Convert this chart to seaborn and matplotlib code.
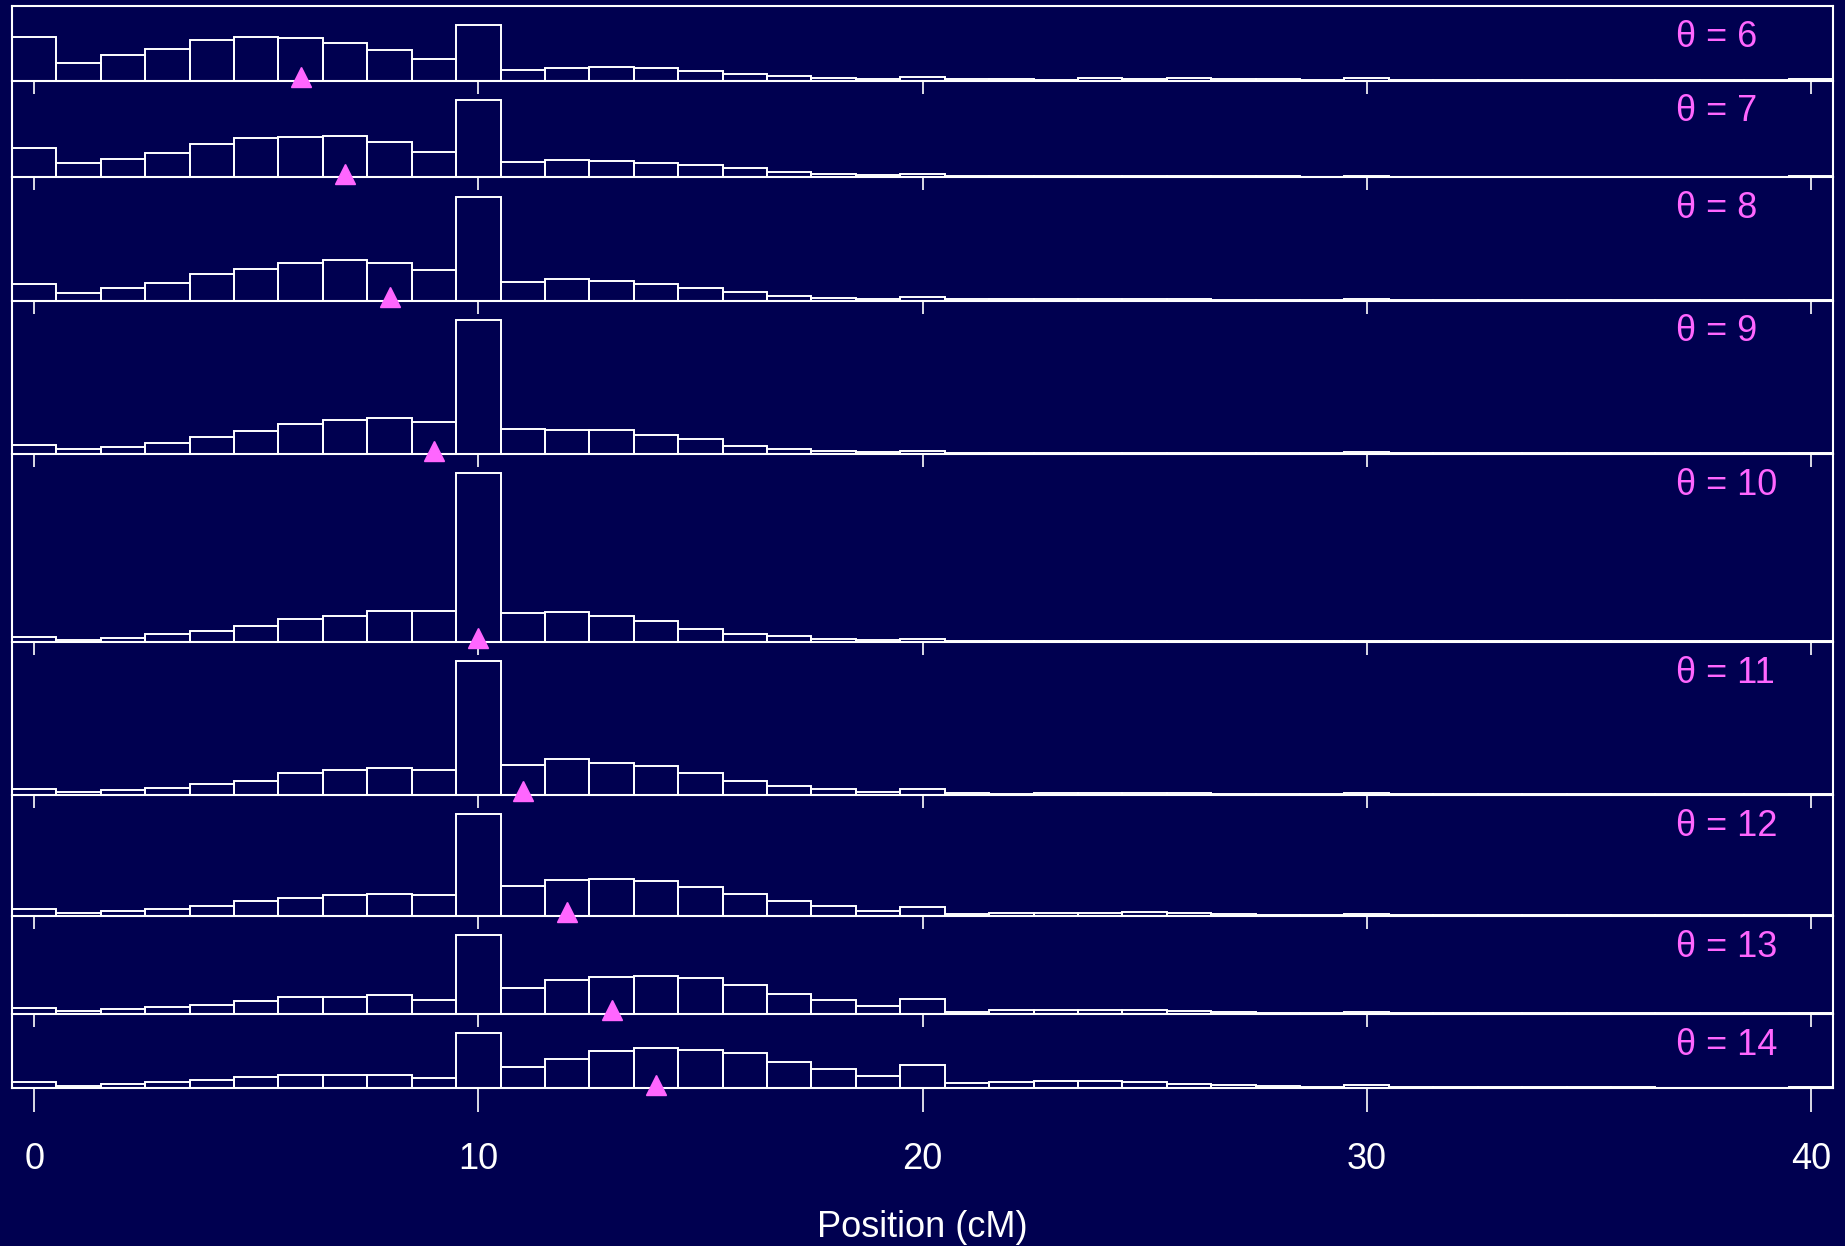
import numpy as np
import pandas as pd
import matplotlib
matplotlib.use('Agg')
import matplotlib.pyplot as plt
import matplotlib.transforms as mtransforms
import seaborn as sns

# %% data: counts per 1 cM bin (bins centred on 0..40), one list per theta
positions = list(range(41))
thetas = [6, 7, 8, 9, 10, 11, 12, 13, 14]

counts_6 = [130, 53, 76, 94, 120, 131, 126, 113, 90, 65, 165, 31, 39, 41, 37, 29, 21, 13, 9, 5, 10,
            4, 4, 3, 8, 5, 8, 4, 4, 2, 7, 2, 2, 2, 2, 2, 2, 2, 2, 2, 5]
counts_7 = [88, 42, 54, 71, 99, 118, 121, 123, 105, 75, 231, 45, 51, 49, 42, 35, 26, 15, 10, 7, 10,
            4, 4, 4, 5, 5, 4, 3, 3, 2, 5, 2, 2, 2, 2, 2, 2, 2, 2, 2, 3]
counts_8 = [51, 24, 37, 54, 78, 95, 111, 120, 113, 92, 311, 57, 63, 58, 50, 38, 27, 15, 9, 6, 11,
            5, 4, 4, 4, 4, 4, 3, 3, 2, 5, 2, 2, 2, 2, 2, 2, 2, 2, 2, 3]
counts_9 = [27, 15, 22, 34, 50, 68, 90, 102, 108, 97, 401, 76, 73, 72, 56, 44, 25, 15, 8, 5, 8,
            4, 4, 4, 4, 4, 4, 3, 2, 2, 5, 2, 2, 2, 2, 2, 2, 2, 2, 2, 3]
counts_10 = [16, 7, 12, 24, 32, 48, 69, 78, 93, 93, 504, 88, 91, 77, 62, 40, 25, 19, 8, 6, 10,
             4, 3, 4, 4, 4, 3, 2, 2, 2, 4, 2, 2, 2, 2, 2, 2, 2, 2, 2, 2]
counts_11 = [17, 8, 14, 21, 31, 42, 64, 74, 81, 74, 399, 89, 108, 95, 86, 64, 42, 26, 16, 9, 17,
             5, 3, 4, 6, 4, 5, 3, 2, 2, 5, 2, 2, 2, 2, 2, 2, 2, 2, 2, 3]
counts_12 = [19, 9, 13, 21, 30, 45, 53, 62, 64, 63, 304, 90, 107, 110, 103, 85, 66, 43, 28, 15, 27,
             5, 8, 9, 9, 11, 7, 4, 2, 2, 6, 1, 1, 1, 1, 1, 1, 1, 1, 1, 3]
counts_13 = [16, 8, 13, 19, 25, 37, 49, 51, 55, 41, 235, 78, 101, 111, 114, 106, 85, 60, 42, 24, 44,
             6, 12, 11, 11, 11, 8, 5, 3, 1, 6, 1, 1, 1, 1, 1, 1, 1, 1, 1, 2]
counts_14 = [19, 7, 12, 19, 25, 32, 39, 38, 39, 31, 164, 62, 86, 111, 120, 115, 106, 79, 56, 36, 70,
             15, 19, 22, 22, 17, 13, 8, 6, 4, 8, 2, 2, 2, 2, 2, 2, 1, 1, 1, 3]

all_counts = [counts_6, counts_7, counts_8, counts_9, counts_10,
              counts_11, counts_12, counts_13, counts_14]

# %% style
bg = '#000050'
magenta = '#FF66FF'
sns.set_style('white')
plt.rcParams['font.family'] = ['Liberation Sans', 'DejaVu Sans']

headroom = 58
ratios = [max(c) + headroom for c in all_counts]

fig = plt.figure(figsize=(18.45, 12.46), dpi=100, facecolor=bg)
gs = fig.add_gridspec(len(thetas), 1, height_ratios=ratios, hspace=0,
                      left=0.0065, right=0.9935, top=0.9952, bottom=0.1268)

for i, (theta, counts) in enumerate(zip(thetas, all_counts)):
    ax = fig.add_subplot(gs[i])
    ax.patch.set_alpha(0)
    df = pd.DataFrame({'pos': positions, 'n': counts})
    sns.histplot(data=df, x='pos', weights='n', discrete=True, fill=False,
                 element='bars', color='white', linewidth=1.4, ax=ax)
    ax.set_xlim(-0.5, 40.5)
    ax.set_ylim(0, max(counts) + headroom)

    # marker for the true position
    trans = mtransforms.offset_copy(ax.transData, fig=fig, y=2.5, units='points')
    ax.plot([theta], [0], marker='^', ms=15, color=magenta, mec=magenta,
            transform=trans, clip_on=False, zorder=10)

    ax.annotate(f'\u03b8 = {theta}', xy=(0.914, 1), xycoords='axes fraction',
                xytext=(0, -22.5), textcoords='offset points',
                ha='left', va='center', color=magenta, fontsize=26)

    for side in ['left', 'right', 'bottom', 'top']:
        ax.spines[side].set_color('white')
        ax.spines[side].set_linewidth(1.5)
    ax.spines['top'].set_visible(i == 0)

    ax.set_yticks([])
    ax.set_ylabel('')
    ax.set_xlabel('')
    ax.set_xticks(np.arange(0, 41, 10))
    last = i == len(thetas) - 1
    ax.tick_params(axis='x', direction='out', colors='white', width=1.2,
                   length=17 if last else 9.4, labelsize=26, pad=22,
                   labelbottom=last, bottom=True)

fig.text(0.5, 0.015, 'Position (cM)', ha='center', va='center',
         color='white', fontsize=26)

fig.savefig('out.png', dpi=100, facecolor=bg)
